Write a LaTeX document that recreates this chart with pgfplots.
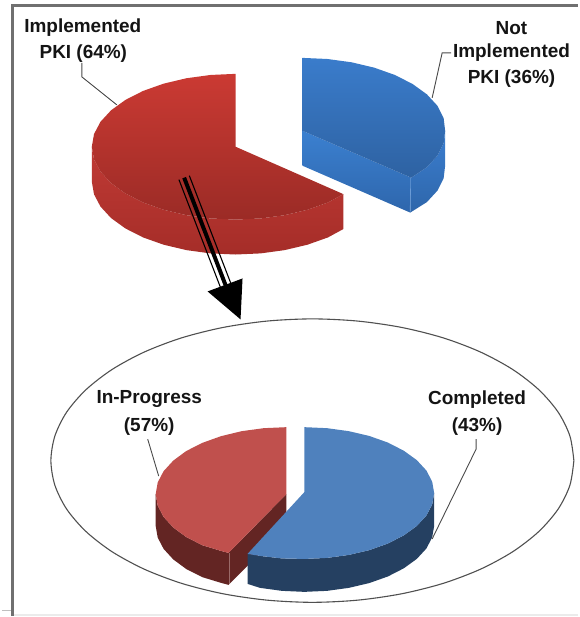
\documentclass[border=0pt]{standalone}
\usepackage{fontspec}
\setmainfont{Liberation Sans}
\usepackage{pgfplots}
\pgfplotsset{compat=1.18}
\definecolor{compBlue}{HTML}{4F81BD}
\definecolor{compBlueDark}{HTML}{254061}
\definecolor{progRed}{HTML}{C0504D}
\definecolor{progRedDark}{HTML}{632523}
\definecolor{leader}{HTML}{4A4A4A}
\definecolor{frameGray}{HTML}{707070}
\definecolor{ringLine}{HTML}{505050}
\definecolor{redRimA}{HTML}{C03A35}
\definecolor{redRimB}{HTML}{A52D28}
\definecolor{redTopA}{HTML}{CB3A33}
\definecolor{redTopB}{HTML}{9B2B26}
\definecolor{blueRimA}{HTML}{3B7ED0}
\definecolor{blueRimB}{HTML}{2E66AA}
\definecolor{blueCutA}{HTML}{3B80D0}
\definecolor{blueCutB}{HTML}{2E66AC}
\definecolor{blueTopA}{HTML}{3A7CCB}
\definecolor{blueTopB}{HTML}{2E62A2}
\definecolor{blueEdge}{HTML}{6A9BD6}
\definecolor{redEdge}{HTML}{9A6A68}
\tikzset{lbl/.style={font=\fontsize{19}{22}\selectfont\bfseries,text=black!92,inner sep=0pt,anchor=center}}
\begin{document}
\begin{tikzpicture}
\begin{axis}[
  width=579pt,height=617pt,scale only axis,
  xmin=0,xmax=579,ymin=0,ymax=617,y dir=reverse,
  hide axis,clip=false]

% page extent
\addplot[draw=none] coordinates {(0,0) (579,617)};

% outer frame
\addplot[frameGray,line width=2.4pt] coordinates {(12.5,617) (12.5,5.5) (579,5.5)};
\addplot[black!25,line width=0.8pt] coordinates {(2,611.5) (11,611.5)};
\addplot[black!8,line width=1.5pt] coordinates {(14,616) (579,616)};

% upper pie: Implemented PKI, rim
\addplot[draw=none,top color=redRimA,bottom color=redRimB] coordinates {
 (92,147) (94.2,159.7) (100.7,172) (111.3,183.5) (125.7,193.9) (143.4,202.9) (164,210.2)
 (186.8,215.6) (211,218.9) (236,220) (261,218.9) (285.2,215.6) (308,210.2) (328.6,202.9) (344,194.5)
 (344,229.5) (328.6,237.9) (308,245.2) (285.2,250.6) (261,253.9) (236,255) (211,253.9) (186.8,250.6)
 (164,245.2) (143.4,237.9) (125.7,228.9) (111.3,218.5) (100.7,207) (94.2,194.7) (92,182)} -- cycle;
% upper pie: Implemented PKI, top face
\addplot[draw=none,top color=redTopA,bottom color=redTopB] coordinates {
 (236,74) (211,75.1) (186.8,78.4) (164,83.8) (143.4,91.1) (125.7,100.1) (111.3,110.5) (100.7,122)
 (94.2,134.3) (92,147) (94.2,159.7) (100.7,172) (111.3,183.5) (125.7,193.9) (143.4,202.9) (164,210.2)
 (186.8,215.6) (211,218.9) (236,220) (261,218.9) (285.2,215.6) (308,210.2) (328.6,202.9) (344,194.5)
 (236,147)} -- cycle;

% upper pie: Not Implemented PKI, rim and cut face
\addplot[draw=none,top color=blueRimA,bottom color=blueRimB] coordinates {
 (446,131) (444.5,143.7) (438.3,156) (427.7,167.5) (412,178) (411,213) (427.7,202.5) (438.3,191)
 (444.5,178.7) (446,166)} -- cycle;
\addplot[draw=none,top color=blueCutA,bottom color=blueCutB] coordinates {
 (303,131) (412,178) (411,213) (303,166)} -- cycle;
% upper pie: Not Implemented PKI, top face
\addplot[draw=none,top color=blueTopA,bottom color=blueTopB] coordinates {
 (303,58) (328,59.1) (352.2,62.4) (375,67.8) (395.6,75.1) (413.3,84.1) (427.7,94.5) (438.3,106)
 (444.5,118.3) (446,131) (444.5,143.7) (438.3,156) (427.7,167.5) (412,178) (303,131)} -- cycle;
\addplot[blueEdge,line width=0.6pt] coordinates {(411.5,178.5) (411,212)};

% arrow from the Implemented slice to the breakdown
\addplot[black,line width=4pt] coordinates {(184.5,178) (226.5,287)};
\addplot[black,line width=1.1pt] coordinates {(189.7,176) (231.7,285)};
\addplot[black,line width=1.1pt] coordinates {(179.3,180) (221.3,289)};
\addplot[draw=none,fill=black] coordinates {(208,292) (243,279) (241,320)} -- cycle;

% ellipse around the breakdown
\addplot[smooth,ringLine,line width=1.1pt] coordinates {
 (575,461.5) (571,436.8) (559.2,412.9) (539.9,390.5) (513.7,370.2) (481.4,352.7) (444,338.5) (402.6,328.1)
 (358.5,321.7) (313,319.5) (267.5,321.7) (223.4,328.1) (182,338.5) (144.6,352.7) (112.3,370.2) (86.1,390.5)
 (66.8,412.9) (55,436.8) (51,461.5) (55,486.2) (66.8,510.1) (86.1,532.5) (112.3,552.8) (144.6,570.3)
 (182,584.5) (223.4,594.9) (267.5,601.3) (313,603.5) (358.5,601.3) (402.6,594.9) (444,584.5) (481.4,570.3)
 (513.7,552.8) (539.9,532.5) (559.2,510.1) (571,486.2) (575,461.5)};

% lower pie: In-Progress
\addplot[draw=none,fill=progRedDark] coordinates {
 (156,495) (158,506.6) (163.9,517.9) (173.6,528.5) (186.6,538.1) (202.8,546.3) (221.5,552) (229,554)
 (287,495) (287,528) (229,586) (221.5,584) (202.8,578.3) (186.6,570.1) (173.6,560.5) (163.9,549.9)
 (158,538.6) (156,527)} -- cycle;
\addplot[draw=none,fill=progRed] coordinates {
 (287,428) (264.3,429) (242.2,432) (221.5,437) (202.8,443.7) (186.6,451.9) (173.6,461.5) (163.9,472.1)
 (158,483.4) (156,495) (158,506.6) (163.9,517.9) (173.6,528.5) (186.6,538.1) (202.8,546.3) (221.5,552)
 (229,554) (287,495)} -- cycle;
\addplot[redEdge,line width=0.5pt] coordinates {(229.5,554.5) (229.5,585)};

% lower pie: Completed
\addplot[draw=none,fill=compBlueDark] coordinates {
 (435,494) (433,505.5) (427.2,516.6) (417.6,527) (404.6,536.4) (388.6,544.6) (370,551.2) (349.5,556)
 (327.6,559) (305,560) (282.4,559.5) (260.5,557) (248,555) (248,585) (260.5,589) (282.4,592) (305,593)
 (327.6,592) (349.5,589) (370,584.2) (388.6,577.6) (404.6,569.4) (417.6,560) (427.2,549.6) (433,538.5)
 (435,527)} -- cycle;
\addplot[draw=none,fill=compBlue] coordinates {
 (305,428) (327.6,429) (349.5,432) (370,436.8) (388.6,443.4) (404.6,451.6) (417.6,461) (427.2,471.4)
 (433,482.5) (435,494) (433,505.5) (427.2,516.6) (417.6,527) (404.6,536.4) (388.6,544.6) (370,551.2)
 (349.5,556) (327.6,559) (305,560) (282.4,559.5) (260.5,557) (248,555) (305,493)} -- cycle;

% leader lines
\addplot[leader,line width=0.9pt] coordinates {(82,63) (82,77) (117,105)};
\addplot[leader,line width=0.9pt] coordinates {(452,53) (443,53) (433,98)};
\addplot[leader,line width=0.9pt] coordinates {(148,440) (159,477)};
\addplot[leader,line width=0.9pt] coordinates {(477,440) (477,450) (433,540)};

% slice labels
\node[lbl] at (axis cs:83,28) {Implemented};
\node[lbl] at (axis cs:83.5,54) {PKI (64\%)};
\node[lbl] at (axis cs:512.5,28) {Not};
\node[lbl] at (axis cs:512.5,53) {Implemented};
\node[lbl] at (axis cs:512.5,79) {PKI (36\%)};
\node[lbl] at (axis cs:149.5,400) {In-Progress};
\node[lbl] at (axis cs:149.5,427) {(57\%)};
\node[lbl] at (axis cs:478,400) {Completed};
\node[lbl] at (axis cs:478,427) {(43\%)};
\end{axis}
\end{tikzpicture}
\end{document}
